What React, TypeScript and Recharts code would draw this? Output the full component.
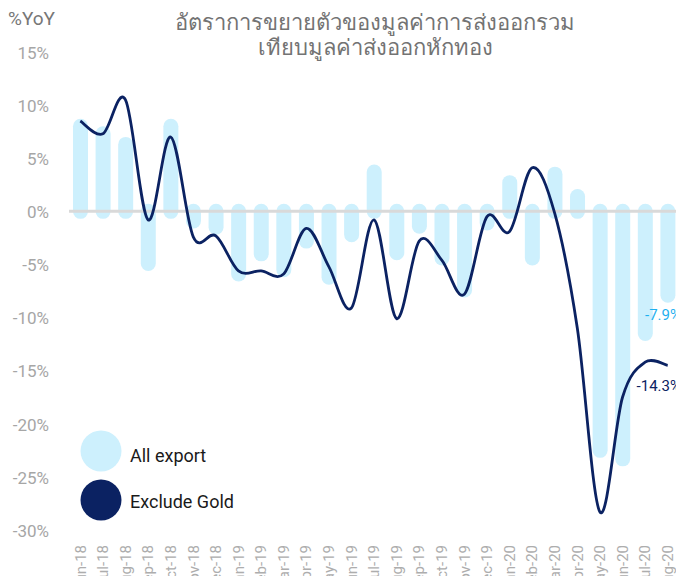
import React from 'react';
import { ComposedChart, Bar, Line, XAxis, YAxis, ReferenceLine, LabelList } from 'recharts';

const months = ['Jun-18','Jul-18','Aug-18','Sep-18','Oct-18','Nov-18','Dec-18','Jan-19','Feb-19','Mar-19','Apr-19','May-19','Jun-19','Jul-19','Aug-19','Sep-19','Oct-19','Nov-19','Dec-19','Jan-20','Feb-20','Mar-20','Apr-20','May-20','Jun-20','Jul-20','Aug-20'];
const allExport = [8.0,7.3,6.3,-4.9,8.0,-0.9,-1.5,-5.9,-4.0,-5.5,-2.8,-6.2,-2.2,3.7,-3.9,-1.4,-4.4,-7.4,-1.1,2.7,-4.4,3.5,1.4,-22.5,-23.3,-11.5,-7.9];
const excludeGold = [8.5,7.3,10.5,-0.8,7.0,-2.4,-2.3,-5.6,-5.6,-5.9,-1.6,-5.2,-9.1,-0.8,-10.1,-2.8,-4.6,-7.8,-0.5,-1.9,4.1,-0.2,-11.0,-28.3,-17.5,-14.2,-14.5];
const yTicks = [15,10,5,0,-5,-10,-15,-20,-25,-30];
const seriesNames = ['All export', 'Exclude Gold'];
const titleLines = ['อัตราการขยายตัวของมูลค่าการส่งออกรวม', 'เทียบมูลค่าส่งออกหักทอง'];
const axisTitle = '%YoY';
const lastLineLabel = '-14.3%';

const data = months.map((m, i) => ({ month: m, all: allExport[i], exGold: excludeGold[i] }));

const BAR_COLOR = '#cdf0fd';
const LINE_COLOR = '#0b2262';
const FONT = "Roboto, 'Noto Sans', sans-serif";

function catmullRom(context: any) {
  let pts: number[][] = [];
  return {
    areaStart() {},
    areaEnd() {},
    lineStart() { pts = []; },
    point(x: number, y: number) { pts.push([+x, +y]); },
    lineEnd() {
      const n = pts.length;
      if (!n) return;
      context.moveTo(pts[0][0], pts[0][1]);
      for (let i = 0; i < n - 1; i++) {
        const p0 = pts[i - 1] || pts[i];
        const p1 = pts[i];
        const p2 = pts[i + 1];
        const p3 = pts[i + 2] || p2;
        context.bezierCurveTo(
          p1[0] + (p2[0] - p0[0]) / 6, p1[1] + (p2[1] - p0[1]) / 6,
          p2[0] - (p3[0] - p1[0]) / 6, p2[1] - (p3[1] - p1[1]) / 6,
          p2[0], p2[1]
        );
      }
    },
  };
}

const PillBar = (props: any) => {
  const { x, y, width, height } = props;
  if (x == null || y == null) return null;
  const top = Math.min(y, y + height);
  const bottom = Math.max(y, y + height);
  const r = width / 2;
  return <rect x={x} y={top - r} width={width} height={bottom - top + 2 * r} rx={r} ry={r} fill={BAR_COLOR} />;
};

const YTick = (props: any) => {
  const { y, payload } = props;
  return (
    <text x={41} y={y} dy="0.4em" textAnchor="end" fontSize={17} fill="#a6a6a6" fontFamily={FONT}>
      {payload.value}%
    </text>
  );
};

const XTick = (props: any) => {
  const { x, payload } = props;
  return (
    <g transform={`translate(${x},537)`}>
      <text transform="rotate(-90)" x={0} y={0} dy="0.35em" textAnchor="end" fontSize={15} fill="#adadad" fontFamily={FONT}>
        {payload.value}
      </text>
    </g>
  );
};

const BarEndLabel = (props: any) => {
  const { y, height, index, value } = props;
  if (index !== months.length - 1) return null;
  const end = Math.max(y, y + height);
  return (
    <text x={673} y={end + 20} textAnchor="end" dominantBaseline="central" fontSize={15} fill="#1fb0ef" fontFamily={FONT}>
      {value}%
    </text>
  );
};

const LineEndLabel = (props: any) => {
  const { y, index } = props;
  if (index !== months.length - 1) return null;
  return (
    <text x={673} y={y + 21} textAnchor="end" dominantBaseline="central" fontSize={15} fill={LINE_COLOR} fontFamily={FONT}>
      {lastLineLabel}
    </text>
  );
};

export default function App() {
  return (
    <div style={{ position: 'relative', width: 676, height: 568, fontFamily: FONT }}>
      <ComposedChart width={676} height={568} data={data} margin={{ top: 44, right: 0, left: 0, bottom: 0 }}>
        <XAxis dataKey="month" interval={0} tick={<XTick />} tickLine={false} axisLine={false} height={46} padding={{ left: 0, right: 5 }} />
        <YAxis domain={[-30, 15]} ticks={yTicks} tick={<YTick />} tickLine={false} axisLine={false} width={61} interval={0} />
        <Bar dataKey="all" barSize={15} shape={<PillBar />} isAnimationActive={false} name={seriesNames[0]}>
          <LabelList dataKey="all" content={<BarEndLabel />} />
        </Bar>
        <ReferenceLine y={0} stroke="#d9d9d9" strokeWidth={3} />
        <Line dataKey="exGold" type={catmullRom as any} stroke={LINE_COLOR} strokeWidth={2.8} dot={false} activeDot={false} isAnimationActive={false} name={seriesNames[1]}>
          <LabelList dataKey="exGold" content={<LineEndLabel />} />
        </Line>
        <g>
          <circle cx={93} cy={443} r={20.5} fill={BAR_COLOR} />
          <circle cx={93} cy={492} r={20.5} fill={LINE_COLOR} />
          <text x={122} y={449} dy="-0.1em" fontSize={18} fill="#1a1a1a" fontFamily={FONT} dominantBaseline="central">{seriesNames[0]}</text>
          <text x={122} y={495} dy="-0.1em" fontSize={18} fill="#1a1a1a" fontFamily={FONT} dominantBaseline="central">{seriesNames[1]}</text>
        </g>
        <text x={0} y={10} dy="0.35em" fontSize={19} fill="#777777" fontFamily={FONT}>{axisTitle}</text>
        <text x={367} y={14} dy="0.35em" textAnchor="middle" fontSize={22} fill="#737373" fontFamily={FONT}>{titleLines[0]}</text>
        <text x={367} y={39} dy="0.35em" textAnchor="middle" fontSize={22} fill="#737373" fontFamily={FONT}>{titleLines[1]}</text>
      </ComposedChart>
    </div>
  );
}
